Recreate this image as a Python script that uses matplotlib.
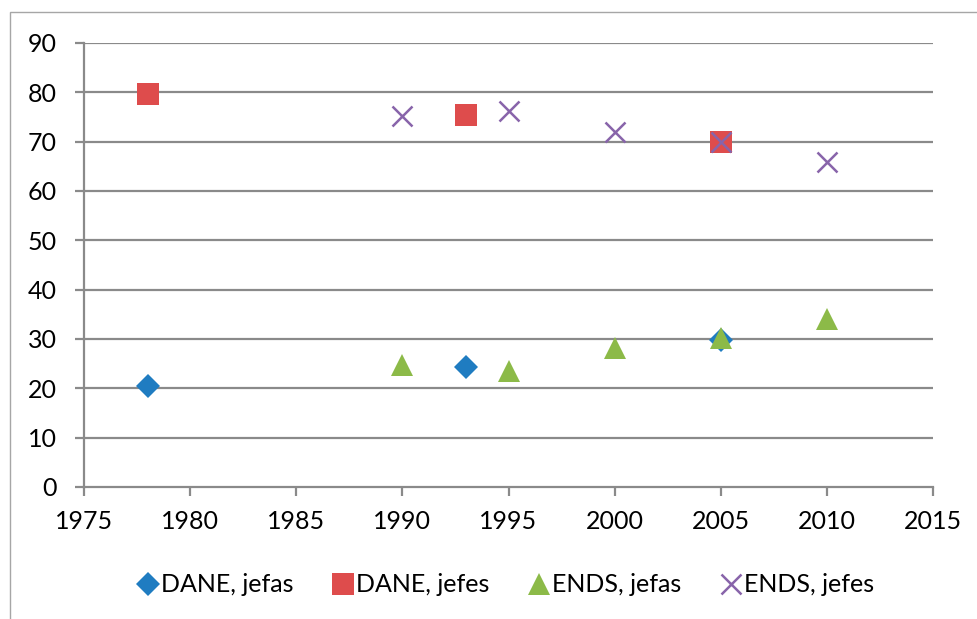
import matplotlib
matplotlib.use("Agg")
import matplotlib.pyplot as plt
from matplotlib.patches import Rectangle

plt.rcParams['font.family'] = ['Lato', 'DejaVu Sans']

# Series data
dane_jefas_years = [1978, 1993, 2005]
dane_jefas_vals = [20.4, 24.4, 29.8]
dane_jefes_years = [1978, 1993, 2005]
dane_jefes_vals = [79.6, 75.4, 70.0]
ends_jefas_years = [1990, 1995, 2000, 2005, 2010]
ends_jefas_vals = [24.8, 23.5, 28.2, 30.2, 34.0]
ends_jefes_years = [1990, 1995, 2000, 2005, 2010]
ends_jefes_vals = [75.2, 76.3, 72.0, 70.0, 65.9]

labels = ["DANE, jefas", "DANE, jefes", "ENDS, jefas", "ENDS, jefes"]
x_ticks = [1975, 1980, 1985, 1990, 1995, 2000, 2005, 2010, 2015]
y_ticks = [0, 10, 20, 30, 40, 50, 60, 70, 80, 90]

blue = "#1f7cc1"
red = "#de4c4c"
green = "#8cba48"
purple = "#8864aa"
grid_gray = "#8a8a8a"

fig = plt.figure(figsize=(9.78, 6.19), dpi=100)
ax = fig.add_axes([84/978, 1 - 487/619, (933-84)/978, (487-43)/619])

# Outer chart frame
fig.patches.append(Rectangle((10/978, -0.1), 1.2, 1 - 12/619 + 0.1,
                             transform=fig.transFigure, fill=False,
                             edgecolor="#a6a6a6", linewidth=1.0, zorder=0))

h1, = ax.plot(dane_jefas_years, dane_jefas_vals, linestyle="none", marker="D",
              markersize=12.5, color=blue, markeredgewidth=0, zorder=3)
h2, = ax.plot(dane_jefes_years, dane_jefes_vals, linestyle="none", marker="s",
              markersize=15.5, color=red, markeredgewidth=0, zorder=3)
h3, = ax.plot(ends_jefas_years, ends_jefas_vals, linestyle="none", marker="^",
              markersize=16, color=green, markeredgewidth=0, zorder=4)
h4, = ax.plot(ends_jefes_years, ends_jefes_vals, linestyle="none", marker="x",
              markersize=15, color=purple, markeredgewidth=1.8, zorder=5)

ax.set_xlim(1975, 2015)
ax.set_ylim(0, 90)
ax.set_xticks(x_ticks)
ax.set_yticks(y_ticks)
ax.set_xticklabels([str(v) for v in x_ticks])
ax.set_yticklabels([str(v) for v in y_ticks])

# Horizontal gridlines
for v in y_ticks[1:]:
    ax.axhline(v, color=grid_gray, linewidth=1.6, zorder=1)

for side in ("top", "right"):
    ax.spines[side].set_visible(False)
for side in ("left", "bottom"):
    ax.spines[side].set_color(grid_gray)
    ax.spines[side].set_linewidth(1.6)

ax.tick_params(axis="y", direction="out", length=6.5, width=1.6, color=grid_gray,
               pad=13, labelsize=18)
ax.tick_params(axis="x", direction="out", length=6.5, width=1.6, color=grid_gray,
               pad=10, labelsize=18)

fig.legend([h1, h2, h3, h4], labels, loc="center", ncol=4,
           bbox_to_anchor=(506/978, 1 - 585/619), frameon=False, fontsize=18,
           handlelength=0.8, handletextpad=0.1, columnspacing=1.6,
           borderaxespad=0)

fig.savefig("out.png", dpi=100)
